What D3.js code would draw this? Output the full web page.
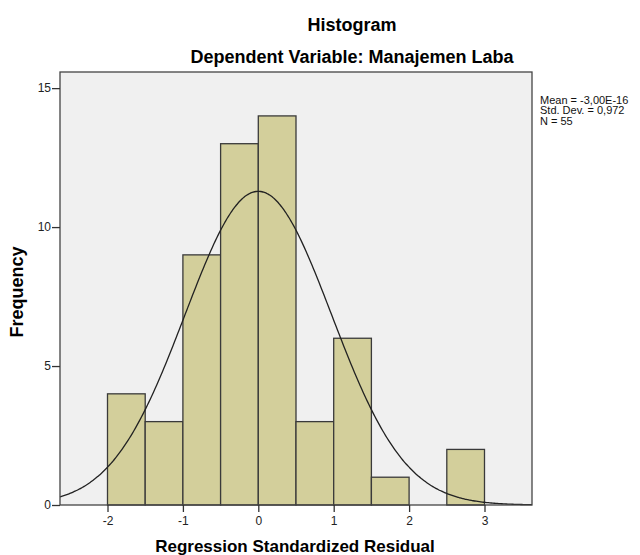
<!DOCTYPE html>
<html><head><meta charset="utf-8">
<script src="https://cdn.jsdelivr.net/npm/d3@7"></script>
<style>body{margin:0;background:#fff;} text{font-family:"Liberation Sans",Arial,sans-serif;}</style>
</head><body>
<svg id="c" width="640" height="555"></svg>
<script>
const binStarts = [-2, -1.5, -1, -0.5, 0, 0.5, 1, 1.5, 2, 2.5];
const binWidth = 0.5;
const frequencies = [4, 3, 9, 13, 14, 3, 6, 1, 0, 2];
const xTicks = [-2, -1, 0, 1, 2, 3];
const yTicks = [0, 5, 10, 15];
const statsMean = -3.00e-16, statsSD = 0.972, statsN = 55;
const statsLabels = ["Mean = -3,00E-16", "Std. Dev. = 0,972", "N = 55"];

const svg = d3.select("#c");
const L = 60, R = 532, T = 72, B = 505;
const x = d3.scaleLinear().domain([-2.63, 3.63]).range([L, R]);
const y = d3.scaleLinear().domain([0, 15.58]).range([B, T]);

svg.append("rect").attr("x", L).attr("y", T).attr("width", R - L).attr("height", B - T)
  .attr("fill", "#f0f0f0");

svg.append("g").selectAll("rect").data(binStarts.map((s, i) => ({s, f: frequencies[i]})).filter(d => d.f > 0))
  .join("rect")
  .attr("x", d => x(d.s)).attr("width", d => x(d.s + binWidth) - x(d.s))
  .attr("y", d => y(d.f)).attr("height", d => y(0) - y(d.f))
  .attr("fill", "#d3cf9b").attr("stroke", "#3a3a3a").attr("stroke-width", 1.3);

// fitted normal curve from mean, sd, N
const pts = d3.range(x.domain()[0], x.domain()[1] + 0.001, 0.02).map(v => [v,
  statsN * binWidth * Math.exp(-0.5 * ((v - statsMean) / statsSD) ** 2) / (statsSD * Math.sqrt(2 * Math.PI))]);
svg.append("path").datum(pts)
  .attr("d", d3.line().x(d => x(d[0])).y(d => y(d[1])).curve(d3.curveBasis))
  .attr("fill", "none").attr("stroke", "#222").attr("stroke-width", 1.3);

svg.append("rect").attr("x", L).attr("y", T).attr("width", R - L).attr("height", B - T)
  .attr("fill", "none").attr("stroke", "#444").attr("stroke-width", 1.3);

const fmt = d => String(d).replace("\u2212", "-");
const xa = svg.append("g").attr("transform", `translate(0,${B})`)
  .call(d3.axisBottom(x).tickValues(xTicks).tickSize(7).tickSizeOuter(0).tickFormat(fmt));
xa.select(".domain").remove();
xa.selectAll("line").attr("stroke", "#333").attr("stroke-width", 1.3);
xa.selectAll("text").attr("font-size", 12).attr("fill", "#222").attr("y", 20).attr("dy", 0);

const ya = svg.append("g").attr("transform", `translate(${L},0)`)
  .call(d3.axisLeft(y).tickValues(yTicks).tickSize(8).tickSizeOuter(0).tickFormat(fmt));
ya.select(".domain").remove();
ya.selectAll("line").attr("stroke", "#333").attr("stroke-width", 1.3);
ya.selectAll("text").attr("font-size", 12).attr("fill", "#222").attr("x", -9);

svg.append("text").attr("x", 352).attr("y", 31).attr("text-anchor", "middle")
  .attr("font-size", 18).attr("font-weight", "bold").text("Histogram");
svg.append("text").attr("x", 352).attr("y", 63).attr("text-anchor", "middle")
  .attr("font-size", 18).attr("font-weight", "bold").text("Dependent Variable: Manajemen Laba");
svg.append("text").attr("x", 295).attr("y", 552).attr("text-anchor", "middle")
  .attr("font-size", 17).attr("font-weight", "bold").text("Regression Standardized Residual");
svg.append("text").attr("transform", "translate(23,292) rotate(-90)").attr("text-anchor", "middle")
  .attr("font-size", 18).attr("font-weight", "bold").text("Frequency");

svg.append("g").selectAll("text").data(statsLabels).join("text")
  .attr("x", 540).attr("y", (d, i) => 103.5 + i * 10.5)
  .attr("font-size", 11).attr("fill", "#111").text(d => d);
</script>
</body></html>
